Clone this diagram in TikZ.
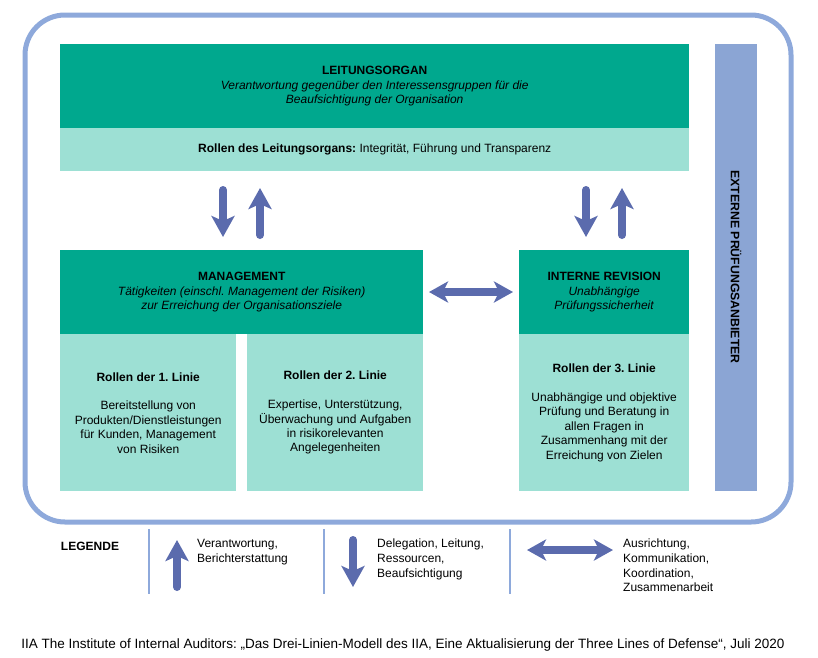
\documentclass[tikz,border=0pt]{standalone}
\usepackage{fontspec}
\setmainfont{Liberation Sans}
\usetikzlibrary{arrows.meta}
\frenchspacing
\definecolor{darkteal}{RGB}{0,168,142}
\definecolor{lightteal}{RGB}{157,224,212}
\definecolor{framec}{RGB}{142,169,219}
\definecolor{barc}{RGB}{139,165,212}
\definecolor{arrowc}{RGB}{91,107,173}
\tikzset{
  dbox/.style={fill=darkteal, inner sep=0pt, anchor=north west, align=center, font=\fontsize{12}{14.4}\selectfont},
  lbox/.style={fill=lightteal, inner sep=0pt, anchor=north west, align=center, font=\fontsize{12}{14.4}\selectfont},
  bigarrow/.style={draw=arrowc, line width=8pt, line cap=round, -{Stealth[length=21pt,width=23pt,inset=5pt]}},
  dblarrow/.style={draw=arrowc, line width=8pt, {Stealth[length=19pt,width=21pt,inset=5pt]}-{Stealth[length=19pt,width=21pt,inset=5pt]}},
  legtext/.style={anchor=north west, inner sep=0pt, align=left, font=\fontsize{12}{14.6}\selectfont},
  sep/.style={draw=framec, line width=1.5pt}
}
\begin{document}
\begin{tikzpicture}[x=1pt,y=-1pt]
\useasboundingbox (0,0) rectangle (818,657);
% outer frame
\draw[framec, line width=5pt, rounded corners=40pt] (25,15) rectangle (791,522);
% Leitungsorgan
\node[dbox, minimum width=629pt, minimum height=84pt] (lo) at (60,44)
  {\textbf{LEITUNGSORGAN}\\ \textit{Verantwortung gegenüber den Interessensgruppen für die}\\ \textit{Beaufsichtigung der Organisation}};
\node[lbox, minimum width=629pt, minimum height=43pt] (lor) at (60,128)
  {\textbf{Rollen des Leitungsorgans:} Integrität, Führung und Transparenz};
% Externe bar
\node[fill=barc, inner sep=0pt, anchor=north west, minimum width=42pt, minimum height=447pt] (ext) at (715,44) {};
\node[rotate=-90, font=\bfseries\fontsize{12.3}{14}\selectfont] (extt) at (736,267) {EXTERNE PRÜFUNGSANBIETER};
% Management
\node[dbox, minimum width=363pt, minimum height=84pt] (mg) at (60,250)
  {\textbf{MANAGEMENT}\\ \textit{Tätigkeiten (einschl. Management der Risiken)}\\ \textit{zur Erreichung der Organisationsziele}};
\node[lbox, minimum width=176pt, minimum height=157pt] (l1) at (60,334)
  {\textbf{Rollen der 1. Linie}\\[14.4pt] Bereitstellung von\\ Produkten/Dienstleistungen\\ für Kunden, Management\\ von Risiken};
\node[lbox, minimum width=176pt, minimum height=157pt] (l2) at (247,334)
  {\textbf{Rollen der 2. Linie}\\[14.4pt] Expertise, Unterstützung,\\ Überwachung und Aufgaben\\ in risikorelevanten\\ Angelegenheiten};
% Interne Revision
\node[dbox, minimum width=170pt, minimum height=84pt] (ir) at (519,250)
  {\textbf{INTERNE REVISION}\\ \textit{Unabhängige}\\ \textit{Prüfungssicherheit}};
\node[lbox, minimum width=170pt, minimum height=157pt] (l3) at (519,334)
  {\textbf{Rollen der 3. Linie}\\[14.4pt] Unabhängige und objektive\\ Prüfung und Beratung in\\ allen Fragen in\\ Zusammenhang mit der\\ Erreichung von Zielen};
% arrows between boxes
\coordinate (a1) at (223,190); \coordinate (a2) at (223,237);
\coordinate (b1) at (260,235); \coordinate (b2) at (260,188);
\coordinate (c1) at (586,190); \coordinate (c2) at (586,237);
\coordinate (d1) at (622,235); \coordinate (d2) at (622,188);
\coordinate (h1) at (429,292); \coordinate (h2) at (513,292);
\draw[bigarrow] (a1) -- (a2);
\draw[bigarrow] (b1) -- (b2);
\draw[bigarrow] (c1) -- (c2);
\draw[bigarrow] (d1) -- (d2);
\draw[dblarrow] (h1) -- (h2);
% legend
\node[font=\bfseries\fontsize{12}{14}\selectfont] (leg) at (90,546) {LEGENDE};
\coordinate (s1a) at (149,529); \coordinate (s1b) at (149,594);
\coordinate (s2a) at (324,529); \coordinate (s2b) at (324,594);
\coordinate (s3a) at (510,529); \coordinate (s3b) at (510,594);
\draw[sep] (s1a) -- (s1b);
\draw[sep] (s2a) -- (s2b);
\draw[sep] (s3a) -- (s3b);
\coordinate (u1) at (177,587); \coordinate (u2) at (177,540);
\coordinate (v1) at (353,540); \coordinate (v2) at (353,587);
\coordinate (w1) at (527,550); \coordinate (w2) at (613,550);
\draw[bigarrow] (u1) -- (u2);
\draw[bigarrow] (v1) -- (v2);
\draw[dblarrow] (w1) -- (w2);
\node[legtext] (t1) at (197,539) {Verantwortung,\\ Berichterstattung};
\node[legtext] (t2) at (377,539) {Delegation, Leitung,\\ Ressourcen,\\ Beaufsichtigung};
\node[legtext] (t3) at (623,539) {Ausrichtung,\\ Kommunikation,\\ Koordination,\\ Zusammenarbeit};
% citation
\node[font=\fontsize{13.5}{15}\selectfont] (cit) at (403,645) {IIA The Institute of Internal Auditors: „Das Drei-Linien-Modell des IIA, Eine Aktualisierung der Three Lines of Defense“, Juli 2020};
\end{tikzpicture}
\end{document}
